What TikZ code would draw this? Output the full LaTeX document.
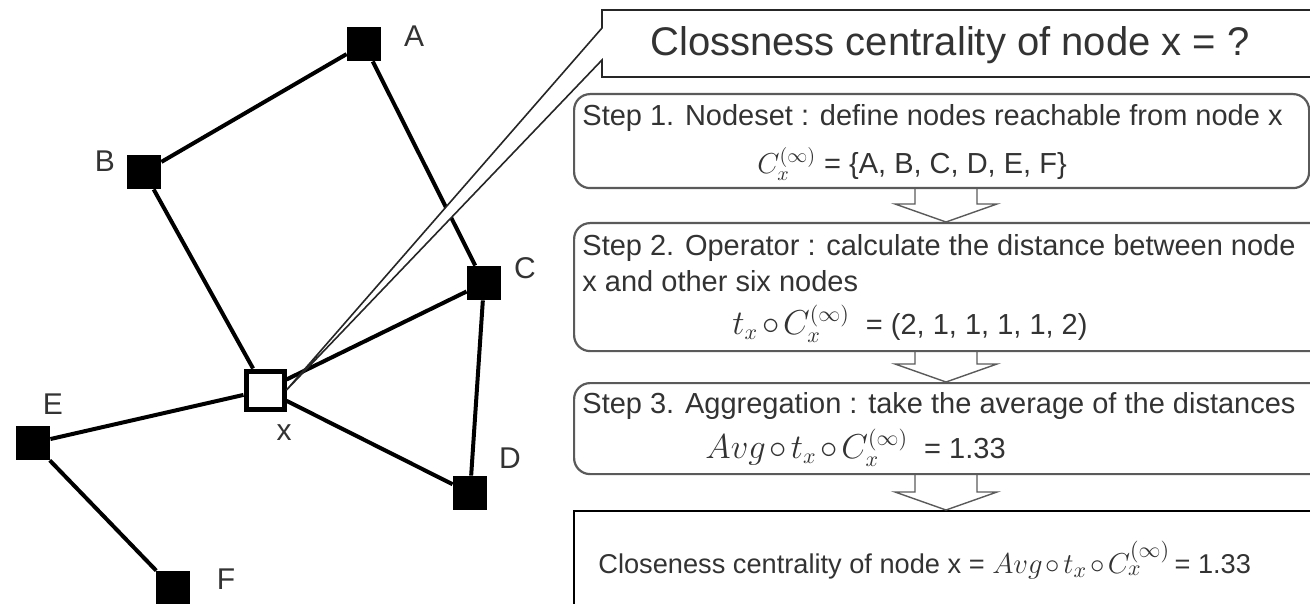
\documentclass[tikz,border=0pt]{standalone}
\usepackage[no-math]{fontspec}
\setmainfont{Liberation Sans}
\usepackage{tikz}
\usetikzlibrary{positioning, calc, backgrounds}
\definecolor{ink}{HTML}{333333}
\definecolor{frame}{HTML}{5A5A5A}

\tikzset{
  vtx/.style={fill=black, minimum size=17pt, inner sep=0pt},
  xvtx/.style={draw=black, fill=white, line width=2.5pt, minimum size=19pt, inner sep=0pt},
  vlab/.style={text=ink, font=\fontsize{15}{15}\selectfont},
  link/.style={line width=2pt},
  stepbox/.style={draw=frame, line width=1.1pt, rounded corners=8pt,
                  anchor=north west, inner sep=0pt},
  steptxt/.style={text=ink, font=\fontsize{14.5}{16}\selectfont, inner sep=0pt},
  openarrow/.style={draw=frame, line width=0.7pt},
}
\newcommand\oo{\mkern2mu{\circ}\mkern2mu}
\newcommand\bigmath[1]{{\fontsize{16}{16}\selectfont$#1$}}
% open block arrow from one step box down to the next
\newcommand\stepdown[2]{%
  \draw[openarrow] let \p1=(#1.south -| ax), \p2=(#2.north -| ax) in
    (\x1-15.5pt,\y1) -- (\x1-15.5pt,\y2+9pt) -- (\x1-25.5pt,\y2+9pt)
    -- (\x2,\y2) -- (\x1+25.5pt,\y2+9pt) -- (\x1+15.5pt,\y2+9pt)
    -- (\x1+15.5pt,\y1);}

\begin{document}
\begin{tikzpicture}[x=0.5pt, y=-0.5pt]
  \clip (0,0) rectangle (1310,604);
  % graph
  \node[vtx] (A) at (364,44) {};
  \node[vtx] (B) at (144,172) {};
  \node[vtx] (C) at (484,283) {};
  \node[vtx] (D) at (470,493) {};
  \node[vtx] (E) at (33,443) {};
  \node[vtx] (F) at (173,588) {};
  \node[xvtx] (x) at (265,390) {};
  \node[vlab] (lA) at (414,36) {A};
  \node[vlab] (lB) at (105,161) {B};
  \node[vlab] (lC) at (525,268) {C};
  \node[vlab] (lD) at (510,458) {D};
  \node[vlab] (lE) at (53,404) {E};
  \node[vlab] (lF) at (226,579) {F};
  \node[vlab] (lx) at (284,433) {x};
  \begin{scope}[on background layer]
    \draw[link] (A) -- (B) (A) -- (C) (B) -- (x) (x) -- (C)
                (x) -- (D) (C) -- (D) (x) -- (E) (E) -- (F);
  \end{scope}

  % steps
  \coordinate (ax) at (946,0);
  \node[stepbox, minimum width=367.5pt, minimum height=47pt] (s1) at (573,93) {};
  \node[stepbox, minimum width=383.5pt, minimum height=64pt] (s2) at (573,222) {};
  \node[stepbox, minimum width=383.5pt, minimum height=45.5pt] (s3) at (573,382) {};
  \node[draw=black, line width=1pt, anchor=north west, inner sep=0pt,
        minimum width=400pt, minimum height=60pt] (res) at (573,510) {};

  \node[steptxt, anchor=west] (t1a) at (582,118)
       {Step 1. Nodeset : define nodes reachable from node x};
  \node[steptxt] (t1b) at (912,164)
       {$C_x^{(\infty)}$ = \{A, B, C, D, E, F\}};
  \node[steptxt, anchor=west] (t2a) at (582,248)
       {Step 2. Operator : calculate the distance between node};
  \node[steptxt, anchor=west] (t2b) at (582,281) {x and other six nodes};
  \node[steptxt] (t2c) at (910,324)
       {\bigmath{t_x\oo C_x^{(\infty)}}\ \ = (2, 1, 1, 1, 1, 2)};
  \node[steptxt, anchor=west] (t3a) at (582,406)
       {Step 3. Aggregation : take the average of the distances};
  \node[steptxt, anchor=west] (t3b) at (705,448)
       {\bigmath{Avg\oo t_x\oo C_x^{(\infty)}}\ \ = 1.33};
  \node[steptxt, anchor=west, font=\fontsize{13.6}{15}\selectfont] (tres) at (598,560)
       {Closeness centrality of node x = {\fontsize{15}{15}\selectfont$Avg\oo t_x\oo C_x^{(\infty)}$}\,= 1.33};

  \stepdown{s1}{s2}
  \stepdown{s2}{s3}
  \stepdown{s3}{res}

  % callout pointing at x
  \coordinate (tip) at (x.east);
  \draw[line width=0.8pt, draw=black!85, fill=white]
    (602,10) -- (1330,10) -- (1330,77) -- (602,77) -- (602,60)
    -- (tip) -- (602,28) -- cycle;
  \node[text=ink, font=\fontsize{20}{20}\selectfont] (ct) at (950,45)
       {Clossness centrality of node x = ?};
\end{tikzpicture}
\end{document}
